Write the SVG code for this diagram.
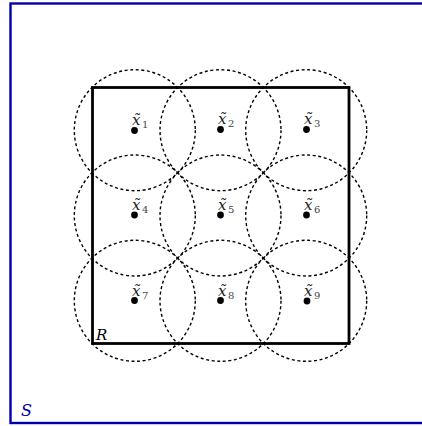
<svg xmlns="http://www.w3.org/2000/svg" width="422" height="426" viewBox="0 0 422 426">
<style>
.cov{fill:none;stroke:#000;stroke-width:1.4;stroke-dasharray:3 2.6}
.pt{fill:#000}
.lab{font-family:"DejaVu Serif","Liberation Serif",serif;font-style:italic;font-size:15px;fill:#222}
.sub{font-family:"DejaVu Serif","Liberation Serif",serif;font-size:10px;fill:#444}
</style>
<rect x="10.5" y="3.5" width="430" height="419.5" fill="#fff" stroke="#0000a8" stroke-width="2.4"/>
<text x="21" y="416" font-family="DejaVu Serif,serif" font-style="italic" font-size="16" fill="#0000a8">S</text>
<g id="region">
<rect x="92.5" y="87.5" width="256.5" height="256" fill="none" stroke="#000" stroke-width="2.8"/>
<text x="96" y="340" class="lab" style="fill:#000">R</text>
</g>
<g id="connectors">
<circle class="cov" cx="134.8" cy="130.2" r="60.5"/>
<circle class="cov" cx="220.5" cy="130.2" r="60.5"/>
<circle class="cov" cx="306.2" cy="130.2" r="60.5"/>
<circle class="cov" cx="134.8" cy="215.5" r="60.5"/>
<circle class="cov" cx="220.5" cy="215.5" r="60.5"/>
<circle class="cov" cx="306.2" cy="215.5" r="60.5"/>
<circle class="cov" cx="134.8" cy="300.8" r="60.5"/>
<circle class="cov" cx="220.5" cy="300.8" r="60.5"/>
<circle class="cov" cx="306.2" cy="300.8" r="60.5"/>
</g>
<g id="x1"><circle class="pt" cx="134.5" cy="130.5" r="3.4"/><text class="lab" x="132" y="125">x̃</text><text class="sub" x="142" y="128">1</text></g>
<g id="x2"><circle class="pt" cx="220.5" cy="129.5" r="3.4"/><text class="lab" x="218" y="124">x̃</text><text class="sub" x="228" y="127">2</text></g>
<g id="x3"><circle class="pt" cx="306.5" cy="129.5" r="3.4"/><text class="lab" x="304" y="124">x̃</text><text class="sub" x="314" y="127">3</text></g>
<g id="x4"><circle class="pt" cx="134.5" cy="215" r="3.4"/><text class="lab" x="132" y="210">x̃</text><text class="sub" x="142" y="213">4</text></g>
<g id="x5"><circle class="pt" cx="220.5" cy="215" r="3.4"/><text class="lab" x="218" y="210">x̃</text><text class="sub" x="228" y="213">5</text></g>
<g id="x6"><circle class="pt" cx="306.5" cy="215" r="3.4"/><text class="lab" x="304" y="210">x̃</text><text class="sub" x="314" y="213">6</text></g>
<g id="x7"><circle class="pt" cx="134.5" cy="300.5" r="3.4"/><text class="lab" x="132" y="296">x̃</text><text class="sub" x="142" y="299">7</text></g>
<g id="x8"><circle class="pt" cx="220.5" cy="300.5" r="3.4"/><text class="lab" x="218" y="296">x̃</text><text class="sub" x="228" y="299">8</text></g>
<g id="x9"><circle class="pt" cx="307" cy="301" r="3.4"/><text class="lab" x="304" y="296">x̃</text><text class="sub" x="314" y="299">9</text></g>
</svg>
